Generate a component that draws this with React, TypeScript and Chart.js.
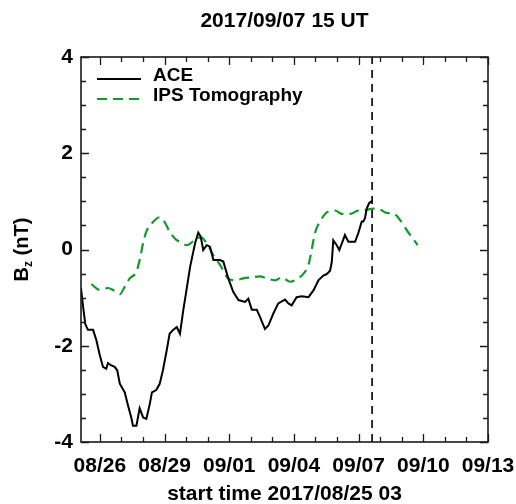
import { useEffect, useRef } from 'react';
import { Chart, registerables } from 'chart.js';

Chart.register(...registerables);

const titleText = '2017/09/07 15 UT';
const xAxisTitle = 'start time 2017/08/25 03';
const yTitleMain = 'B';
const yTitleSub = 'z';
const yTitleUnit = ' (nT)';

// x in days since 2017/08/25 03 UT
const xMinDay = 0;
const xMaxDay = 18.875;
const xTickDays = [0.875, 3.875, 6.875, 9.875, 12.875, 15.875, 18.875];
const xTickLabels = ['08/26', '08/29', '09/01', '09/04', '09/07', '09/10', '09/13'];
const yTickValues = [-4, -2, 0, 2, 4];
const currentTimeDay = 13.5;

const aceDays = [
  0.0, 0.1, 0.2, 0.32, 0.56, 0.71, 0.87, 1.02, 1.17, 1.25, 1.41, 1.56, 1.68, 1.8,
  2.03, 2.18, 2.33, 2.41, 2.57, 2.72, 2.88, 3.03, 3.19, 3.29, 3.49, 3.65, 3.8, 3.96,
  4.11, 4.27, 4.44, 4.59, 4.74, 4.9, 5.06, 5.29, 5.44, 5.55, 5.67, 5.83, 5.98, 6.14,
  6.45, 6.6, 6.83, 7.06, 7.3, 7.61, 7.76, 7.92, 8.15, 8.3, 8.53, 8.69, 8.92, 9.15,
  9.46, 9.62, 9.77, 10.0, 10.24, 10.55, 10.78, 11.01, 11.24, 11.4, 11.55, 11.63,
  11.7, 11.86, 11.98, 12.14, 12.24, 12.4, 12.71, 12.86, 13.02, 13.09, 13.17, 13.25,
  13.37, 13.45, 13.5,
];
const aceBz = [
  -0.8, -1.2, -1.55, -1.67, -1.67, -1.88, -2.19, -2.44, -2.48, -2.36, -2.41, -2.44, -2.51, -2.79,
  -2.97, -3.24, -3.49, -3.66, -3.66, -3.3, -3.49, -3.52, -3.21, -2.97, -2.92, -2.79, -2.51, -2.13,
  -1.75, -1.67, -1.61, -1.75, -1.27, -0.82, -0.36, 0.13, 0.35, 0.27, -0.01, 0.09, 0.06, -0.22,
  -0.22, -0.25, -0.6, -0.88, -1.05, -1.09, -1.02, -1.25, -1.25, -1.4, -1.65, -1.58, -1.33, -1.12,
  -1.04, -1.12, -1.16, -0.99, -0.97, -0.99, -0.85, -0.64, -0.54, -0.51, -0.44, -0.26,
  0.19, 0.09, -0.01, 0.18, 0.3, 0.16, 0.16, 0.34, 0.58, 0.58, 0.65, 0.85,
  0.97, 0.99, 1.02,
];

const ipsDays = [
  0.48, 0.87, 1.25, 1.48, 1.8, 2.03, 2.26, 2.57, 2.72, 2.88, 3.03, 3.34, 3.65, 3.88,
  4.11, 4.42, 4.59, 4.9, 5.29, 5.55, 5.83, 6.14, 6.45, 6.83, 7.14, 7.53, 7.92, 8.3,
  8.61, 9.0, 9.31, 9.7, 10.01, 10.32, 10.55, 10.7, 10.85, 11.08, 11.47, 11.78, 12.09,
  12.48, 12.86, 13.17, 13.56, 13.87, 14.18, 14.49, 14.8, 15.11, 15.34, 15.61,
];
const ipsBz = [
  -0.72, -0.84, -0.8, -0.84, -0.93, -0.77, -0.6, -0.46, -0.22, 0.13, 0.37, 0.57, 0.67, 0.57,
  0.37, 0.2, 0.16, 0.09, 0.2, 0.25, 0.13, -0.12, -0.32, -0.6, -0.64, -0.6, -0.58, -0.56,
  -0.6, -0.64, -0.58, -0.67, -0.62, -0.5, -0.32, 0.0, 0.34, 0.58, 0.79, 0.81, 0.74,
  0.74, 0.81, 0.82, 0.85, 0.83, 0.76, 0.75, 0.61, 0.4, 0.26, 0.09,
];

const FONT = '"Liberation Sans", Arial, Helvetica, sans-serif';
const GREEN = '#119a2a';

const framePlugin = {
  id: 'frameTicks',
  afterDatasetsDraw(chart: any) {
    const { ctx, chartArea: a, scales } = chart;
    const xs = scales.x;
    const ys = scales.y;
    ctx.save();
    ctx.setLineDash([]);
    ctx.strokeStyle = '#1a1a1a';
    ctx.lineWidth = 1.6;
    ctx.strokeRect(a.left, a.top, a.right - a.left, a.bottom - a.top);
    ctx.lineWidth = 1.3;
    ctx.beginPath();
    let k = 0;
    for (let v = xTickDays[0]; v <= xMaxDay + 1e-6; v += 1, k++) {
      const px = Math.round(xs.getPixelForValue(v)) + 0.5;
      const len = k % 3 === 0 ? 8 : 5;
      ctx.moveTo(px, a.bottom);
      ctx.lineTo(px, a.bottom - len);
      ctx.moveTo(px, a.top);
      ctx.lineTo(px, a.top + len);
    }
    for (let v = -4; v <= 4 + 1e-6; v += 0.5) {
      const py = Math.round(ys.getPixelForValue(v)) + 0.5;
      const len = Math.abs(v % 2) < 1e-6 ? 8 : 5;
      ctx.moveTo(a.left, py);
      ctx.lineTo(a.left + len, py);
      ctx.moveTo(a.right, py);
      ctx.lineTo(a.right - len, py);
    }
    ctx.stroke();
    ctx.restore();
  },
};

const legendPlugin = {
  id: 'innerLegend',
  afterDraw(chart: any) {
    const { ctx, chartArea: a } = chart;
    ctx.save();
    let row = 0;
    chart.data.datasets.forEach((ds: any) => {
      if (!ds.inLegend) return;
      const ty = a.top + 19 + row * 20;
      const ly = ty + 3;
      ctx.strokeStyle = ds.borderColor;
      ctx.lineWidth = ds.borderWidth;
      ctx.setLineDash(ds.borderDash || []);
      ctx.beginPath();
      ctx.moveTo(a.left + 16, ly);
      ctx.lineTo(a.left + 60, ly);
      ctx.stroke();
      ctx.setLineDash([]);
      ctx.fillStyle = '#000';
      ctx.font = `bold 19px ${FONT}`;
      ctx.textBaseline = 'middle';
      ctx.textAlign = 'left';
      ctx.fillText(ds.label, a.left + 72, ty);
      row++;
    });
    ctx.restore();
  },
};

const yTitlePlugin = {
  id: 'yTitle',
  afterDraw(chart: any) {
    const { ctx, chartArea: a } = chart;
    ctx.save();
    ctx.fillStyle = '#000';
    const mainFont = `bold 20px ${FONT}`;
    const subFont = `bold 12px ${FONT}`;
    ctx.font = mainFont;
    const wB = ctx.measureText(yTitleMain).width;
    const wU = ctx.measureText(yTitleUnit).width;
    ctx.font = subFont;
    const wz = ctx.measureText(yTitleSub).width;
    const total = wB + wz + wU;
    ctx.translate(28, (a.top + a.bottom) / 2);
    ctx.rotate(-Math.PI / 2);
    ctx.textBaseline = 'alphabetic';
    ctx.textAlign = 'left';
    let x0 = -total / 2;
    ctx.font = mainFont;
    ctx.fillText(yTitleMain, x0, 0);
    x0 += wB;
    ctx.font = subFont;
    ctx.fillText(yTitleSub, x0, 4);
    x0 += wz;
    ctx.font = mainFont;
    ctx.fillText(yTitleUnit, x0, 0);
    ctx.restore();
  },
};

export default function App() {
  const ref = useRef<HTMLCanvasElement | null>(null);
  useEffect(() => {
    if (!ref.current) return;
    const chart = new Chart(ref.current, {
      type: 'line',
      data: {
        datasets: [
          {
            label: 'ACE',
            inLegend: true,
            data: aceDays.map((d, i) => ({ x: d, y: aceBz[i] })),
            borderColor: '#000',
            borderWidth: 2,
            pointRadius: 0,
            tension: 0,
          } as any,
          {
            label: 'IPS Tomography',
            inLegend: true,
            data: ipsDays.map((d, i) => ({ x: d, y: ipsBz[i] })),
            borderColor: GREEN,
            borderWidth: 2.2,
            borderDash: [10, 6],
            pointRadius: 0,
            cubicInterpolationMode: 'monotone',
          } as any,
          {
            label: 'current time',
            inLegend: false,
            data: [
              { x: currentTimeDay, y: -4 },
              { x: currentTimeDay, y: 4 },
            ],
            borderColor: '#000',
            borderWidth: 1.6,
            borderDash: [8, 6],
            pointRadius: 0,
          } as any,
        ],
      },
      options: {
        responsive: false,
        animation: false,
        layout: { padding: { left: 0, right: 28, top: 0, bottom: 0 } },
        plugins: {
          legend: { display: false },
          tooltip: { enabled: false },
          title: {
            display: true,
            text: titleText,
            fullSize: false,
            color: '#000',
            font: { family: FONT, size: 21, weight: 'bold', lineHeight: 1 },
            padding: { top: 11, bottom: 25 },
          },
        },
        scales: {
          x: {
            type: 'linear',
            min: xMinDay,
            max: xMaxDay,
            grid: { display: false, drawTicks: false },
            border: { display: false },
            afterBuildTicks: (s: any) => {
              s.ticks = xTickDays.map((v) => ({ value: v }));
            },
            afterFit: (s: any) => {
              s.height = 62;
              s.paddingLeft = 0;
              s.paddingRight = 0;
            },
            ticks: {
              autoSkip: false,
              maxRotation: 0,
              color: '#000',
              padding: 14,
              font: { family: FONT, size: 21, weight: 'bold', lineHeight: 1 },
              callback: (_v: any, i: number) => xTickLabels[i],
            },
            title: {
              display: true,
              text: xAxisTitle,
              color: '#000',
              font: { family: FONT, size: 21, weight: 'bold', lineHeight: 1 },
              padding: { top: 0, bottom: -1 },
            },
          },
          y: {
            type: 'linear',
            min: -4,
            max: 4,
            grid: { display: false, drawTicks: false },
            border: { display: false },
            afterBuildTicks: (s: any) => {
              s.ticks = yTickValues.map((v) => ({ value: v }));
            },
            afterFit: (s: any) => {
              s.width = 81;
              s.paddingTop = 0;
              s.paddingBottom = 0;
            },
            ticks: {
              color: '#000',
              padding: 8,
              font: { family: FONT, size: 21, weight: 'bold', lineHeight: 1 },
              callback: (v: any) => String(v),
            },
          },
        },
      } as any,
      plugins: [framePlugin, legendPlugin, yTitlePlugin],
    });
    return () => chart.destroy();
  }, []);

  return (
    <div style={{ position: 'fixed', left: 0, top: 0, width: 516, height: 504, background: '#fff' }}>
      <canvas ref={ref} width={516} height={504} />
    </div>
  );
}
